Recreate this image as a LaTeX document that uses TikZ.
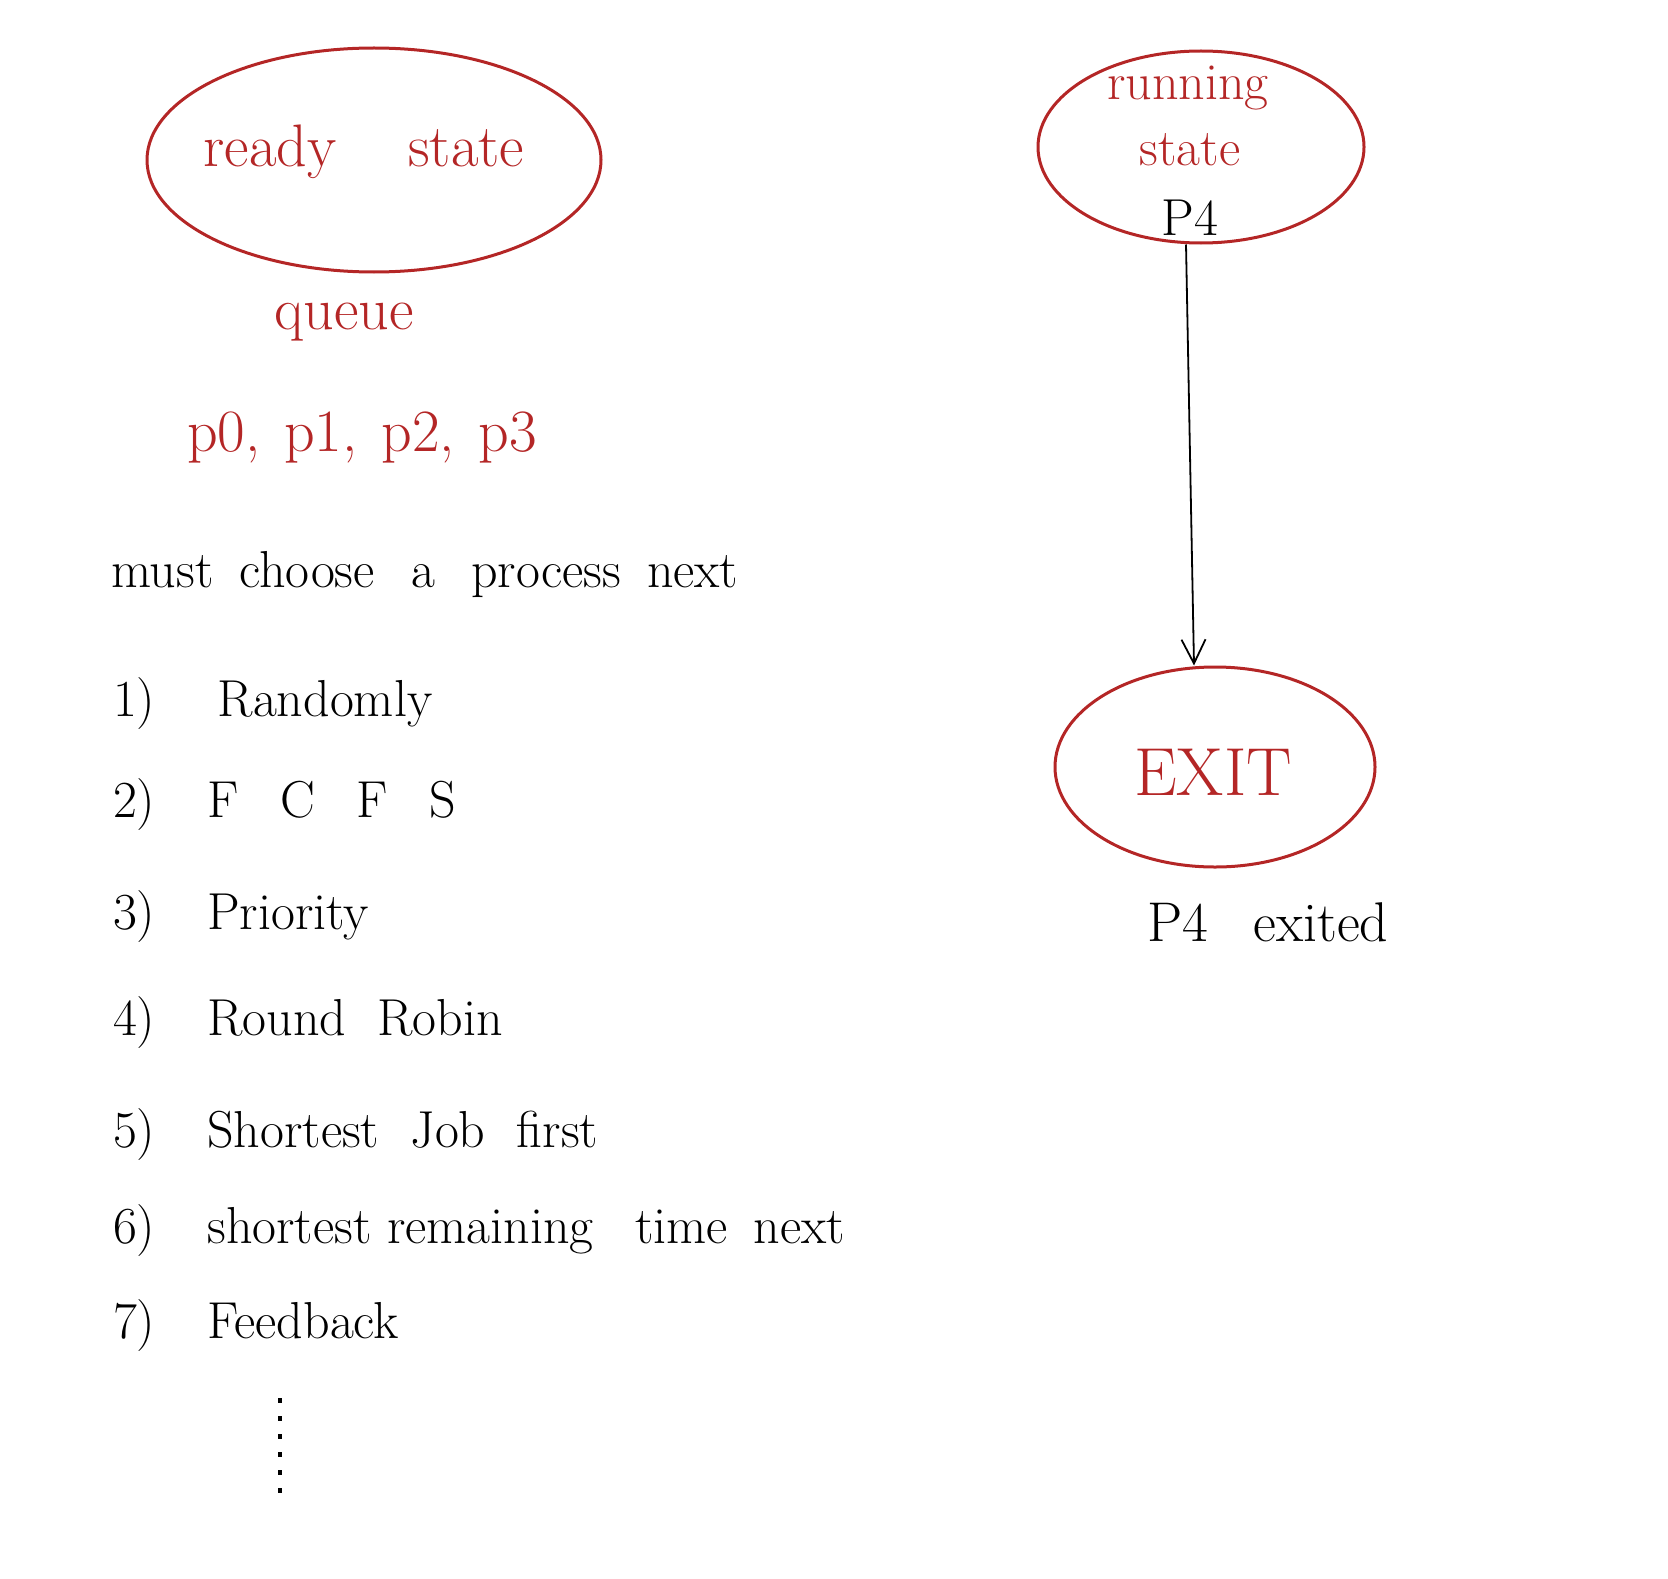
\documentclass[tikz,border=0pt]{standalone}
\usetikzlibrary{shapes.geometric,arrows.meta}
\definecolor{inkred}{RGB}{180,38,38}
\begin{document}
\begin{tikzpicture}[x=0.5pt,y=-0.5pt,
  redring/.style={draw=inkred,line width=1.5pt,ellipse,inner sep=0pt},
  redtext/.style={text=inkred,font=\fontsize{30}{34}\selectfont},
  blacktext/.style={text=black,font=\fontsize{26}{30}\selectfont},
  listitem/.style={anchor=west,text=black,font=\fontsize{26}{30}\selectfont},
  flow/.style={draw=black,line width=0.9pt,-{Straight Barb[length=12pt,width=12pt]}}]
\useasboundingbox (0,0) rectangle (1668,1578);
% ready state
\node[redring,minimum width=227pt,minimum height=112pt] (ready) at (374,160) {};
\node[redtext] (readytxt) at (364,152) {ready\hspace{1.2em}state};
\node[redtext] (queue) at (344,322) {queue};
\node[redtext] (plist) at (362,438) {p0,\hspace{0.4em}p1,\hspace{0.4em}p2,\hspace{0.4em}p3};
% running state
\node[redring,minimum width=163pt,minimum height=96pt] (run) at (1201,147) {};
\node[redtext,font=\fontsize{26}{30}\selectfont] (runtxt1) at (1188,88) {running};
\node[redtext,font=\fontsize{26}{30}\selectfont] (runtxt2) at (1190,150) {state};
\node[blacktext] (p4) at (1190,218) {P4};
% exit
\node[redring,minimum width=160pt,minimum height=100pt] (exit) at (1215,767) {};
\node[redtext,font=\fontsize{34}{38}\selectfont] (exittxt) at (1213,772) {EXIT};
\node[blacktext,font=\fontsize{28}{32}\selectfont] (exited) at (1268,922) {P4\hspace{0.8em}exited};
\draw[flow] ([xshift=-7.5pt]run.south) -- ([xshift=-10.5pt]exit.north);
% list
\node[listitem] (must) at (104,575) {must\hspace{0.5em}choose\hspace{0.7em}a\hspace{0.7em}process\hspace{0.5em}next};
\node[listitem] (i1) at (106,704) {1)\hspace{1.2em}Randomly};
\node[listitem] (i2) at (106,805) {2)\hspace{1em}F\hspace{0.8em}C\hspace{0.8em}F\hspace{0.8em}S};
\node[listitem] (i3) at (106,917) {3)\hspace{1em}Priority};
\node[listitem] (i4) at (106,1023) {4)\hspace{1em}Round\hspace{0.6em}Robin};
\node[listitem] (i5) at (106,1135) {5)\hspace{1em}Shortest\hspace{0.6em}Job\hspace{0.6em}first};
\node[listitem] (i6) at (106,1231) {6)\hspace{1em}shortest\hspace{0.3em}remaining\hspace{0.8em}time\hspace{0.5em}next};
\node[listitem] (i7) at (106,1326) {7)\hspace{1em}Feedback};
% vertical ellipsis
\coordinate (dtop) at (280,1398);
\coordinate (dbot) at (280,1500);
\draw[line width=1.6pt,dash pattern=on 2.5pt off 6.5pt] (dtop) -- (dbot);
\end{tikzpicture}
\end{document}
